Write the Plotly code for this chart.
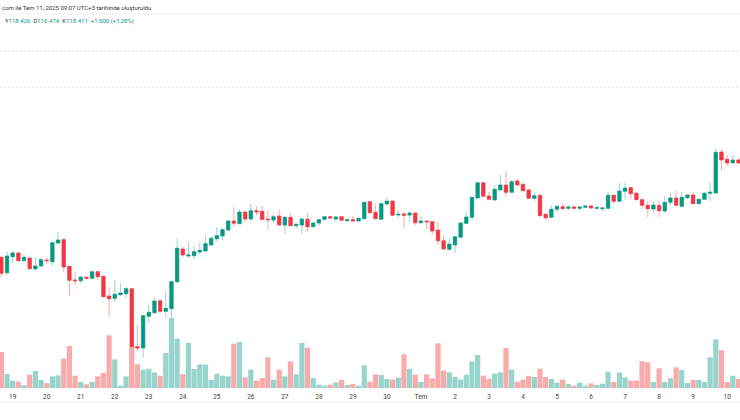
import plotly.graph_objects as go

# 4 saatlik mumlar, k = 0 is the 19 Jun midnight candle
opens = [108.77, 107.23, 108.83, 109.2, 108.43, 108.7, 107.6, 107.9, 108.5, 108.33, 110.2, 110.53, 107.87, 106.5, 106.43,
         106.77, 106.67, 107.33, 106.87, 104.9, 104.67, 105.03, 105.13, 105.63, 99.83, 99.7, 102.87, 103.23, 104.43, 103.37,
         103.63, 106.33, 109.6, 108.9, 108.93, 109.3, 109.4, 110.0, 110.63, 110.9, 111.5, 112.4, 112.13, 113.3, 112.6,
         113.43, 113.37, 112.6, 112.5, 112.9, 112.0, 112.77, 111.93, 112.0, 112.57, 111.83, 112.2, 112.57, 112.83, 112.6,
         112.83, 112.43, 112.53, 112.4, 112.63, 114.33, 113.27, 112.57, 114.1, 114.4, 113.0, 113.1, 113.0, 113.2, 112.23,
         112.4, 112.33, 111.5, 110.43, 109.57, 110.0, 110.77, 112.17, 112.77, 114.7, 116.23, 114.9, 114.5, 115.5, 116.0,
         115.27, 116.4, 116.07, 115.5, 114.67, 114.97, 113.07, 112.77, 113.57, 113.83, 113.67, 113.8, 113.67, 113.77, 113.9,
         113.67, 113.63, 113.67, 114.97, 114.37, 115.37, 115.73, 115.17, 114.53, 113.97, 113.6, 113.97, 113.4, 114.27,
         114.7, 113.87, 114.73, 115.0, 114.13, 114.57, 115.17, 115.2, 119.3, 118.57, 118.23, 118.5]
highs = [108.9, 109.33, 109.4, 109.27, 109.07, 108.83, 108.77, 108.77, 108.8, 110.33, 111.3, 110.67, 107.93, 107.33, 106.9,
         106.9, 107.43, 107.4, 106.9, 105.83, 106.5, 106.17, 105.83, 105.67, 102.0, 103.0, 104.0, 104.77, 104.5, 105.43,
         106.4, 110.67, 109.9, 110.33, 109.9, 110.17, 111.0, 110.83, 111.77, 111.67, 112.43, 113.77, 113.57, 113.43, 114.1,
         113.83, 113.9, 113.43, 113.1, 113.57, 112.9, 113.17, 112.17, 112.73, 113.17, 112.27, 112.6, 112.9, 112.9, 112.9,
         112.9, 112.63, 112.9, 112.7, 114.3, 114.37, 114.17, 114.23, 114.77, 114.43, 113.5, 113.33, 113.33, 113.23, 112.9,
         112.43, 112.4, 112.33, 111.0, 110.67, 110.9, 112.33, 113.33, 114.83, 116.27, 116.27, 115.3, 116.0, 117.0, 117.4,
         116.5, 116.63, 116.17, 115.67, 115.27, 115.0, 113.17, 114.0, 113.93, 114.17, 114.0, 113.93, 113.9, 114.0, 113.97,
         113.9, 113.83, 115.33, 115.0, 116.2, 116.17, 115.77, 115.33, 114.57, 114.43, 114.4, 114.4, 114.83, 115.23,
         115.4, 115.3, 115.07, 115.27, 114.63, 115.3, 116.27, 119.67, 119.57, 119.0, 119.0, 118.67]
lows = [106.77, 107.0, 108.23, 108.3, 108.33, 107.6, 107.43, 107.77, 108.13, 107.9, 110.17, 107.33, 104.9, 106.0, 106.17,
        106.53, 106.63, 106.5, 104.8, 102.83, 104.27, 104.9, 104.67, 99.77, 99.43, 98.73, 102.23, 103.1, 103.17, 102.73,
        101.0, 106.17, 108.77, 108.73, 108.57, 109.0, 109.33, 109.9, 110.33, 110.5, 111.43, 111.83, 112.1, 112.33, 112.33,
        112.97, 112.4, 111.5, 112.17, 111.97, 111.1, 111.9, 111.67, 111.07, 111.33, 111.77, 111.9, 112.43, 112.57, 112.3,
        112.43, 112.37, 112.33, 112.37, 112.6, 113.2, 112.6, 112.5, 114.0, 112.9, 112.7, 111.63, 112.27, 112.0, 112.17,
        111.57, 111.0, 110.0, 109.57, 109.4, 109.2, 110.73, 112.1, 112.43, 114.67, 114.83, 114.5, 114.47, 115.43, 114.77,
        115.23, 115.97, 115.37, 114.63, 114.37, 112.87, 112.5, 112.67, 113.27, 113.57, 113.5, 113.57, 113.43, 113.67, 113.63,
        113.57, 113.37, 113.63, 114.1, 114.33, 114.6, 114.63, 114.5, 113.57, 112.8, 113.23, 112.77, 113.23, 113.93,
        113.9, 113.73, 114.57, 114.1, 114.1, 114.5, 114.4, 115.17, 117.5, 117.9, 118.1, 118.1]
closes = [107.17, 108.9, 109.2, 108.43, 108.77, 107.63, 107.9, 108.53, 108.43, 110.23, 110.5, 107.8, 106.47, 106.43, 106.8,
          106.67, 107.33, 106.83, 104.83, 104.63, 105.07, 105.2, 105.63, 99.83, 99.7, 102.93, 103.27, 104.4, 103.37, 103.67,
          106.33, 109.67, 109.0, 109.0, 109.33, 109.47, 110.13, 110.67, 110.93, 111.53, 112.4, 112.17, 113.3, 112.6, 113.43,
          113.3, 112.57, 112.53, 112.83, 112.0, 112.77, 111.93, 112.07, 112.6, 111.83, 112.2, 112.53, 112.83, 112.7, 112.8,
          112.47, 112.53, 112.4, 112.67, 114.27, 113.23, 112.63, 114.13, 114.4, 112.97, 113.07, 112.97, 113.2, 112.23, 112.4,
          112.33, 111.4, 110.43, 109.6, 110.1, 110.83, 112.2, 112.8, 114.77, 116.23, 114.87, 114.57, 115.57, 116.0, 115.27,
          116.33, 116.0, 115.43, 114.67, 114.93, 112.93, 112.73, 113.57, 113.87, 113.63, 113.8, 113.67, 113.8, 113.9, 113.7,
          113.73, 113.7, 114.97, 114.37, 115.4, 115.7, 115.13, 114.53, 113.97, 113.63, 114.0, 113.43, 114.27, 114.7,
          113.97, 114.77, 115.0, 114.13, 114.57, 115.17, 115.27, 119.27, 118.5, 118.2, 118.5, 118.2]
volumes = [108, 42, 22, 19, 9, 40, 51, 24, 14, 35, 38, 88, 126, 37, 18, 11, 18, 35, 45, 158, 86, 7, 35, 124, 71, 55, 58, 47,
           37, 105, 210, 148, 41, 135, 57, 71, 70, 24, 43, 37, 35, 133, 138, 32, 55, 22, 30, 92, 25, 55, 35, 80, 41, 135, 121,
           30, 10, 7, 10, 17, 24, 9, 12, 7, 68, 19, 41, 39, 27, 25, 31, 101, 57, 40, 18, 41, 29, 134, 52, 47, 34, 25, 40, 80,
           99, 37, 27, 43, 47, 120, 55, 19, 25, 36, 33, 58, 33, 27, 16, 25, 12, 7, 16, 7, 14, 9, 13, 49, 18, 46, 32, 22, 22,
           80, 77, 18, 59, 18, 29, 62, 54, 15, 24, 24, 18, 92, 146, 113, 18, 37, 27]
tick_vals = [0, 6, 12, 18, 24, 30, 36, 42, 48, 54, 60, 66, 72, 78, 84, 90, 96, 102, 108, 114, 120, 126]
tick_labels = ['19', '20', '21', '22', '23', '24', '25', '26', '27', '28', '29', '30', 'Tem', '2', '3', '4', '5', '6', '7', '8', '9', '10']

x = list(range(-2, len(closes) - 2))
vol_colors = ['#97d5cc' if c >= o else '#f9aaaa' for o, c in zip(opens, closes)]
body_high = [max(o, c) for o, c in zip(opens, closes)]
body_low = [min(o, c) for o, c in zip(opens, closes)]

volume = go.Bar(x=x, y=volumes, marker=dict(color=vol_colors, line=dict(width=0)), yaxis='y', showlegend=False)
wicks = go.Candlestick(
    x=x, open=opens, high=highs, low=lows, close=closes, yaxis='y2', whiskerwidth=0, showlegend=False,
    increasing=dict(line=dict(color='#97d5cc', width=1), fillcolor='#97d5cc'),
    decreasing=dict(line=dict(color='#f9aaaa', width=1), fillcolor='#f9aaaa'),
)
bodies = go.Candlestick(
    x=x, open=opens, high=body_high, low=body_low, close=closes, yaxis='y2', whiskerwidth=0, showlegend=False,
    increasing=dict(line=dict(color='#089981', width=0.5), fillcolor='#089981'),
    decreasing=dict(line=dict(color='#f23645', width=0.5), fillcolor='#f23645'),
)

layout = go.Layout(
    width=740, height=420,
    margin=dict(l=0, r=0, t=0, b=0),
    paper_bgcolor='white', plot_bgcolor='white',
    bargap=0.08,
    boxgap=0.15,
    xaxis=dict(range=[-2.24, 128.27], tickvals=tick_vals, ticktext=tick_labels, showgrid=False, zeroline=False,
               rangeslider=dict(visible=False), ticks='outside', ticklen=2, tickcolor='white', showline=False,
               tickfont=dict(family='Roboto', size=6.5, color='#444444')),
    # y2 overlays y, so both share one domain
    yaxis=dict(domain=[32 / 420, 368 / 420], range=[0, 1008], visible=False),
    yaxis2=dict(range=[95.7, 129.3], overlaying='y', visible=False),
    shapes=[
        dict(type='line', xref='paper', yref='paper', x0=0, x1=1, y0=(420 - 14) / 420, y1=(420 - 14) / 420, line=dict(color='#f0f0f0', width=1)),
        dict(type='line', xref='paper', yref='paper', x0=0, x1=1, y0=(420 - 51) / 420, y1=(420 - 51) / 420, line=dict(color='#d5e9e4', width=1, dash='2px,2px')),
        dict(type='line', xref='paper', yref='paper', x0=0, x1=1, y0=(420 - 87) / 420, y1=(420 - 87) / 420, line=dict(color='#d5e9e4', width=1, dash='2px,2px')),
        dict(type='line', xref='paper', yref='paper', x0=0, x1=1, y0=(420 - 402) / 420, y1=(420 - 402) / 420, line=dict(color='#f0f0f0', width=1)),
    ],
    annotations=[
        dict(text='com ile Tem 11, 2025 09:07 UTC+3 tarihinde oluşturuldu', xref='paper', yref='paper',
             x=0, y=(420 - 7) / 420, xanchor='left', yanchor='middle', showarrow=False,
             font=dict(family='Roboto', size=6, color='#333333')),
        dict(text='Y<span style="color:#089981">118.426</span>  D<span style="color:#089981">116.474</span>  '
                  'K<span style="color:#089981">118.411</span>  <span style="color:#089981">+1.500 (+1,28%)</span>',
             xref='paper', yref='paper', x=3 / 740, y=(420 - 21) / 420, xanchor='left', yanchor='middle', showarrow=False,
             font=dict(family='Roboto', size=6, color='#333333')),
    ],
)

fig = go.Figure(data=[volume, wicks, bodies], layout=layout)
fig.write_html("out.html", config=dict(displayModeBar=False), post_script="document.body.style.margin='0';")
